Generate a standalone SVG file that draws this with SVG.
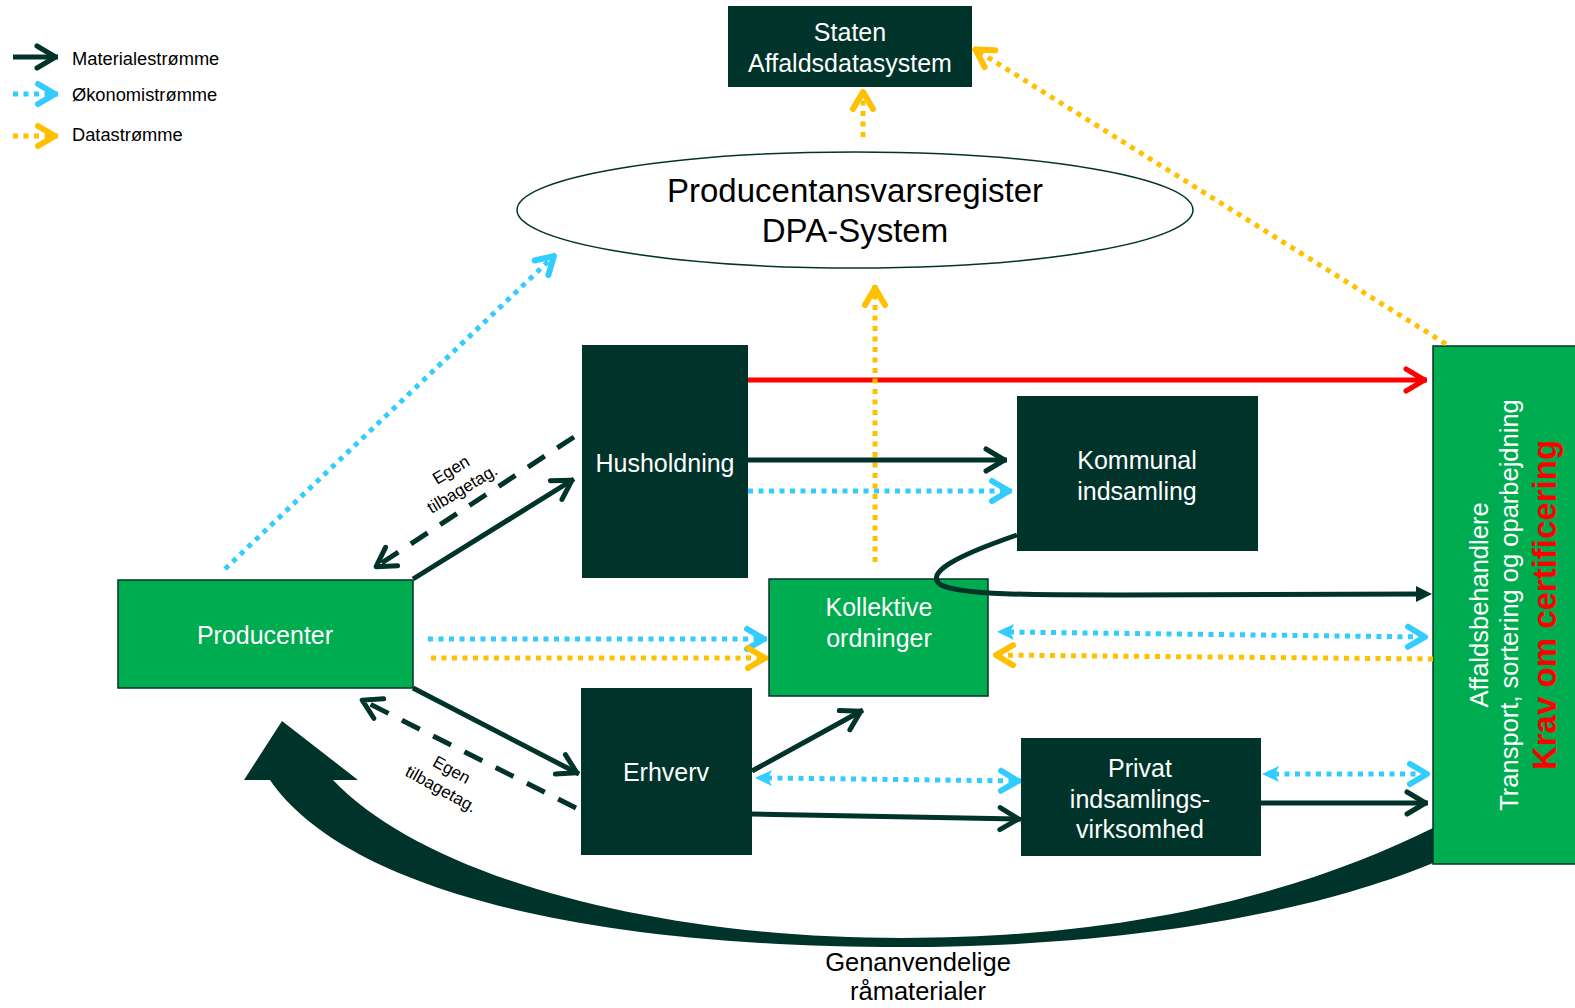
<svg xmlns="http://www.w3.org/2000/svg" width="1575" height="1008" viewBox="0 0 1575 1008">
<style>
.dk{fill:#00332A}
.gr{fill:#00AC50;stroke:#00332A;stroke-width:1.5}
.t{font-family:"Liberation Sans",Arial,Helvetica,sans-serif}
.wt{fill:#FFFFFF;font-size:25px;text-anchor:middle}
.bt{fill:#000000}
.sol{fill:none;stroke:#00332A;stroke-width:5}
.dsh{fill:none;stroke:#00332A;stroke-width:5;stroke-dasharray:20 15}
.red{fill:none;stroke:#FF0000;stroke-width:5}
.blu{fill:none;stroke:#33CCFF;stroke-width:5;stroke-dasharray:5 5.5}
.yel{fill:none;stroke:#FFC000;stroke-width:5;stroke-dasharray:5 5.5}
</style>
<defs>
<marker id="cD" markerUnits="userSpaceOnUse" orient="auto" overflow="visible" markerWidth="1" markerHeight="1" refX="0" refY="0"><path d="M-21,-11 L-2.5,0 L-21,11" fill="none" stroke="#00332A" stroke-width="5" stroke-linecap="round" stroke-linejoin="round"/></marker>
<marker id="cR" markerUnits="userSpaceOnUse" orient="auto" overflow="visible" markerWidth="1" markerHeight="1" refX="0" refY="0"><path d="M-21,-11 L-2.5,0 L-21,11" fill="none" stroke="#FF0000" stroke-width="5" stroke-linecap="round" stroke-linejoin="round"/></marker>
<marker id="cB" markerUnits="userSpaceOnUse" orient="auto" overflow="visible" markerWidth="1" markerHeight="1" refX="0" refY="0"><path d="M-20,-10 L-3,0 L-20,10" fill="none" stroke="#33CCFF" stroke-width="6" stroke-linecap="round" stroke-linejoin="round"/></marker>
<marker id="cY" markerUnits="userSpaceOnUse" orient="auto" overflow="visible" markerWidth="1" markerHeight="1" refX="0" refY="0"><path d="M-20,-10 L-3,0 L-20,10" fill="none" stroke="#FFC000" stroke-width="6" stroke-linecap="round" stroke-linejoin="round"/></marker>
<marker id="fB" markerUnits="userSpaceOnUse" orient="auto-start-reverse" overflow="visible" markerWidth="1" markerHeight="1" refX="0" refY="0"><path d="M12,0 L-5,-8 L-1,0 L-5,8 Z" fill="#33CCFF"/></marker>
<marker id="fD" markerUnits="userSpaceOnUse" orient="auto" overflow="visible" markerWidth="1" markerHeight="1" refX="0" refY="0"><path d="M12,0 L-4,-8 L-4,8 Z" fill="#00332A"/></marker>
</defs>

<g id="legend">
<path class="sol" d="M13,57 H58" marker-end="url(#cD)"/>
<path class="blu" d="M13,94 H58" marker-end="url(#cB)"/>
<path class="yel" d="M13,136 H58" marker-end="url(#cY)"/>
<text class="t bt" x="72" y="65" font-size="18.3">Materialestrømme</text>
<text class="t bt" x="72" y="101" font-size="18.3">Økonomistrømme</text>
<text class="t bt" x="72" y="141" font-size="18.3">Datastrømme</text>
</g>

<g id="staten">
<rect class="dk" x="728" y="6" width="244" height="81"/>
<text class="t wt" x="850" y="41">Staten</text>
<text class="t wt" x="850" y="72">Affaldsdatasystem</text>
</g>

<g id="dpa">
<ellipse cx="855" cy="210" rx="338" ry="58" fill="#FFFFFF" stroke="#00332A" stroke-width="1.5"/>
<text class="t bt" x="855" y="202" font-size="33" text-anchor="middle">Producentansvarsregister</text>
<text class="t bt" x="855" y="242" font-size="33" text-anchor="middle">DPA-System</text>
</g>

<g id="husholdning">
<rect class="dk" x="582" y="345" width="166" height="233"/>
<text class="t wt" x="665" y="472">Husholdning</text>
</g>

<g id="kommunal">
<rect class="dk" x="1017" y="396" width="241" height="155"/>
<text class="t wt" x="1137" y="469">Kommunal</text>
<text class="t wt" x="1137" y="500">indsamling</text>
</g>

<g id="kollektive">
<rect class="gr" x="769" y="579" width="219" height="117"/>
<text class="t wt" x="879" y="616">Kollektive</text>
<text class="t wt" x="879" y="647">ordninger</text>
</g>

<g id="producenter">
<rect class="gr" x="118" y="580" width="295" height="108"/>
<text class="t wt" x="265" y="644">Producenter</text>
</g>

<g id="erhverv">
<rect class="dk" x="581" y="688" width="171" height="167"/>
<text class="t wt" x="666" y="781">Erhverv</text>
</g>

<g id="privat">
<rect class="dk" x="1021" y="738" width="240" height="118"/>
<text class="t wt" x="1140" y="777">Privat</text>
<text class="t wt" x="1140" y="808">indsamlings-</text>
<text class="t wt" x="1140" y="838">virksomhed</text>
</g>

<g id="affaldsbehandlere">
<rect class="gr" x="1433" y="346" width="150" height="518"/>
<text class="t" transform="translate(1488,605) rotate(-90)" fill="#FFFFFF" font-size="25.5" text-anchor="middle">Affaldsbehandlere</text>
<text class="t" transform="translate(1518,605) rotate(-90)" fill="#FFFFFF" font-size="25.5" text-anchor="middle">Transport, sortering og oparbejdning</text>
<text class="t" transform="translate(1556,605) rotate(-90)" fill="#FF0000" font-size="33" font-weight="bold" text-anchor="middle">Krav om certificering</text>
</g>

<g id="connectors">
<path class="yel" d="M863,137 V89" marker-end="url(#cY)"/>
<path class="yel" d="M1446,344 L973,48" marker-end="url(#cY)"/>
<path class="red" d="M748,380 H1427" marker-end="url(#cR)"/>
<path class="yel" d="M875,562 V285" marker-end="url(#cY)"/>
<path class="blu" d="M225,569 L556,254" marker-end="url(#cB)"/>
<path class="sol" d="M748,460 H1007" marker-end="url(#cD)"/>
<path class="blu" d="M748,491 H1012" marker-end="url(#cB)"/>
<path class="dsh" d="M574,437 L374,568" marker-end="url(#cD)"/>
<path class="sol" d="M413,579 L574,479" marker-end="url(#cD)"/>
<path class="sol" d="M413,688 L579,774" marker-end="url(#cD)"/>
<path class="dsh" d="M576,808 L360,699" marker-end="url(#cD)"/>
<path class="blu" d="M428,639 H767" marker-end="url(#cB)"/>
<path class="yel" d="M431,658 H768" marker-end="url(#cY)"/>
<path class="sol" d="M1017,535 C956,556 924,573 941,585 C962,595 1030,595 1120,595 L1420,594" marker-end="url(#fD)"/>
<path class="blu" d="M1009,632 L1428,637" marker-start="url(#fB)" marker-end="url(#cB)"/>
<path class="yel" d="M1433,659 L993,655" marker-end="url(#cY)"/>
<path class="sol" d="M752,771 L863,710" marker-end="url(#cD)"/>
<path class="blu" d="M767,778 L1021,781" marker-start="url(#fB)" marker-end="url(#cB)"/>
<path class="sol" d="M752,814 L1021,819" marker-end="url(#cD)"/>
<path class="blu" d="M1274,774 L1430,774" marker-start="url(#fB)" marker-end="url(#cB)"/>
<path class="sol" d="M1261,803 H1428" marker-end="url(#cD)"/>
<path class="dk" d="M1433,828 C1320,884 1150,938 902,938 C640,938 420,872 333,780 L358,780 L282,721 L244,780 L270,780 C340,882 560,947 902,947 C1150,947 1330,906 1433,863 Z"/>
</g>

<g id="labels">
<text class="t bt" transform="translate(457,480) rotate(-31)" font-size="17" text-anchor="middle"><tspan x="0" y="-6">Egen</tspan><tspan x="0" y="16">tilbagetag.</tspan></text>
<text class="t bt" transform="translate(446,780) rotate(29)" font-size="17" text-anchor="middle"><tspan x="0" y="-6">Egen</tspan><tspan x="0" y="16">tilbagetag.</tspan></text>
<text class="t bt" x="918" y="971" font-size="25.5" text-anchor="middle">Genanvendelige</text>
<text class="t bt" x="918" y="1000" font-size="25.5" text-anchor="middle">råmaterialer</text>
</g>
</svg>
